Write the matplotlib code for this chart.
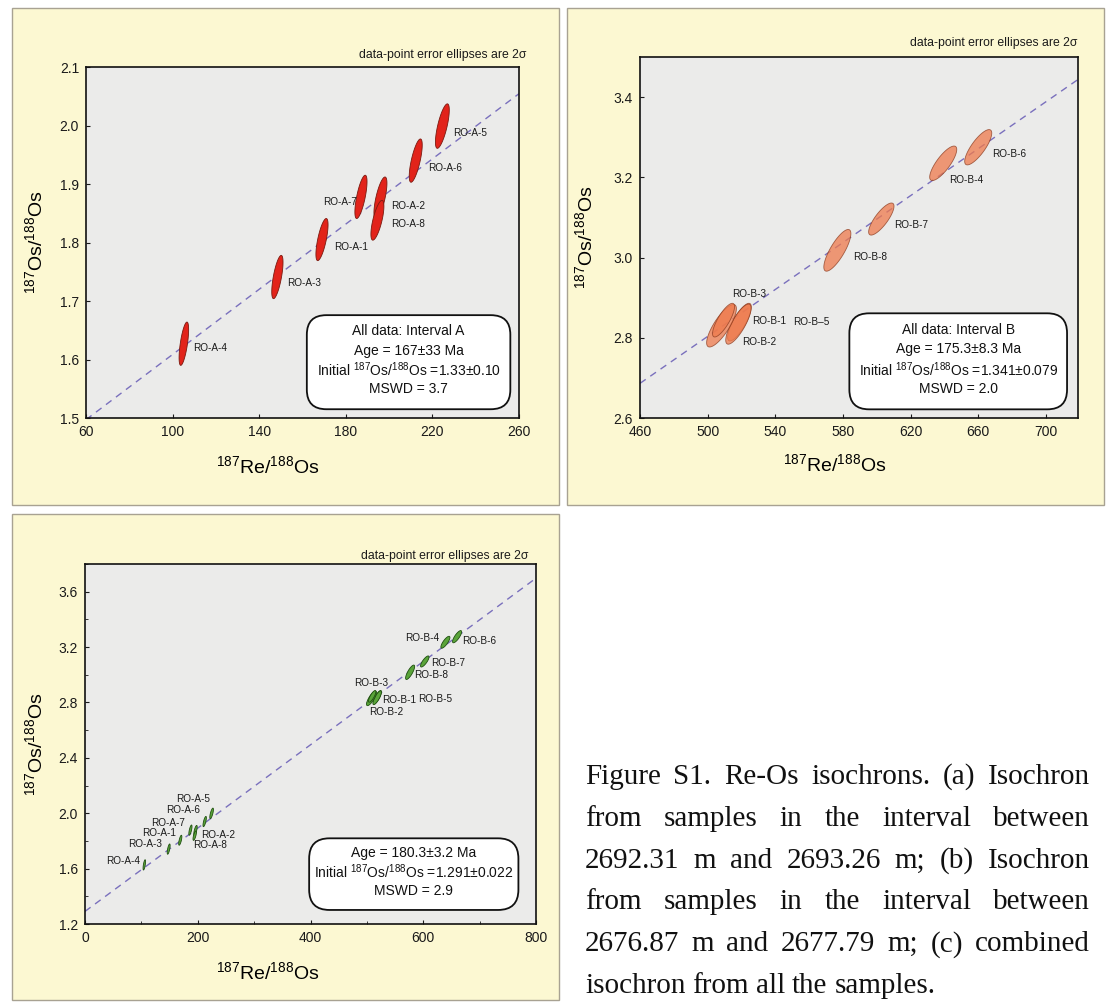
import numpy as np
import matplotlib
matplotlib.use("Agg")
import matplotlib.pyplot as plt
from matplotlib.patches import Polygon, Rectangle, FancyBboxPatch
from matplotlib.ticker import MultipleLocator, FormatStrFormatter

W, H = 1107, 1007

plt.rcParams["font.family"] = ["Liberation Sans", "DejaVu Sans"]
plt.rcParams["mathtext.fontset"] = "custom"
plt.rcParams["mathtext.rm"] = "Liberation Sans"
plt.rcParams["mathtext.it"] = "Liberation Sans:italic"
plt.rcParams["mathtext.bf"] = "Liberation Sans:bold"

LAMBDA_187RE = 1.666e-11  # 1/yr

# interval A: 187Re/188Os, 187Os/188Os, 2-sigma half extents, error correlation
A_NAMES = ["RO-A-1", "RO-A-2", "RO-A-3", "RO-A-4", "RO-A-5", "RO-A-6", "RO-A-7", "RO-A-8"]
A_RE = [169.0, 196.0, 148.4, 105.2, 224.6, 212.3, 187.0, 194.6]
A_OS = [1.805, 1.876, 1.741, 1.627, 1.999, 1.940, 1.878, 1.838]
A_RE_ERR = [2.8, 3.0, 2.6, 2.2, 3.2, 3.0, 2.8, 3.0]
A_OS_ERR = [0.036, 0.036, 0.037, 0.037, 0.038, 0.037, 0.037, 0.034]
A_RHO = [0.70, 0.70, 0.68, 0.65, 0.72, 0.72, 0.70, 0.70]

# interval B
B_NAMES = ["RO-B-1", "RO-B-2", "RO-B-3", "RO-B-4", "RO-B-5", "RO-B-6", "RO-B-7", "RO-B-8"]
B_RE = [518.8, 518.2, 508.2, 639.3, 509.4, 660.0, 602.7, 576.7]
B_OS = [2.839, 2.834, 2.830, 3.235, 2.844, 3.275, 3.096, 3.018]
B_RE_ERR = [7.0, 7.5, 8.8, 8.0, 6.5, 8.0, 7.5, 8.0]
B_OS_ERR = [0.047, 0.050, 0.053, 0.043, 0.042, 0.044, 0.040, 0.052]
B_RHO = [0.80, 0.80, 0.80, 0.80, 0.80, 0.80, 0.80, 0.80]

# isochron results: age (Ma), error, initial ratio, error, MSWD
ISO_A = (167, 33, 1.33, 0.10, 3.7)
ISO_B = (175.3, 8.3, 1.341, 0.079, 2.0)
ISO_ALL = (180.3, 3.2, 1.291, 0.022, 2.9)

A_TICKS_X = [60, 100, 140, 180, 220, 260]
A_TICKS_Y = [1.5, 1.6, 1.7, 1.8, 1.9, 2.0, 2.1]
B_TICKS_X = [460, 500, 540, 580, 620, 660, 700]
B_TICKS_Y = [2.6, 2.8, 3.0, 3.2, 3.4]
C_TICKS_X = [0, 200, 400, 600, 800]
C_TICKS_Y = [1.2, 1.6, 2.0, 2.4, 2.8, 3.2, 3.6]

# label placement: offset in points and alignment
A_LABEL_POS = {
    "RO-A-1": (9, -5, "left"), "RO-A-2": (8, -6, "left"), "RO-A-3": (7, -4, "left"),
    "RO-A-4": (7, -3, "left"), "RO-A-5": (8, -5, "left"), "RO-A-6": (9, -5, "left"),
    "RO-A-7": (-3, -4, "right"), "RO-A-8": (10, -3, "left"),
}
B_LABEL_POS = {
    "RO-B-1": (9, 1, "left"), "RO-B-2": (3, -13, "left"), "RO-B-3": (20, 23, "center"),
    "RO-B-4": (4, -12, "left"), "RO-B-5": (50, -1, "left"), "RO-B-6": (10, -5, "left"),
    "RO-B-7": (9, -4, "left"), "RO-B-8": (11, -5, "left"),
}
B_LABEL_TEXT = {"RO-B-5": "RO-B–5"}
C_LABEL_POS = {
    "RO-A-1": (-3, 5, "right"), "RO-A-2": (4, -3, "left"), "RO-A-3": (-5, 4, "right"),
    "RO-A-4": (-3, 3, "right"), "RO-A-5": (-1, 10, "right"), "RO-A-6": (-3, 8, "right"),
    "RO-A-7": (-4, 5, "right"), "RO-A-8": (-1, -7, "left"),
    "RO-B-1": (3.7, -2, "left"), "RO-B-2": (6.5, -10, "center"), "RO-B-3": (0, 11, "center"),
    "RO-B-4": (-4.7, 3, "right"), "RO-B-5": (33, -2, "left"), "RO-B-6": (3.4, -3.4, "left"),
    "RO-B-7": (4.9, -1, "left"), "RO-B-8": (2.7, -2.2, "left"),
}

PANEL_BG = "#fcf8d2"
PANEL_EDGE = "#a8a292"
PLOT_BG = "#ebebea"
LINE_COLOR = "#7a70bd"

fig = plt.figure(figsize=(W / 100, H / 100), dpi=100)
fig.patch.set_facecolor("white")


def px_axes(x0, y0, x1, y1):
    ax = fig.add_axes([x0 / W, 1 - y1 / H, (x1 - x0) / W, (y1 - y0) / H])
    ax.set_zorder(2)
    return ax


def panel(x0, y0, x1, y1):
    fig.patches.append(Rectangle((x0 / W, 1 - y1 / H), (x1 - x0) / W, (y1 - y0) / H,
                                 transform=fig.transFigure, facecolor=PANEL_BG,
                                 edgecolor=PANEL_EDGE, linewidth=1.0, zorder=-1))


def error_ellipse(ax, cx, cy, sx, sy, rho, face, edge, alpha=1.0):
    t = np.linspace(0, 2 * np.pi, 120)
    xs = cx + sx * np.cos(t)
    ys = cy + sy * (rho * np.cos(t) + np.sqrt(1 - rho ** 2) * np.sin(t))
    ax.add_patch(Polygon(np.column_stack([xs, ys]), closed=True, facecolor=face,
                         edgecolor=edge, linewidth=0.6, alpha=alpha, zorder=3))


def isochron(ax, iso, xlim):
    age, _, r0, _, _ = iso
    slope = np.exp(LAMBDA_187RE * age * 1e6) - 1
    xs = np.array(xlim, dtype=float)
    ax.plot(xs, r0 + slope * xs, color=LINE_COLOR, lw=1.0, dashes=(5, 4), zorder=2)


def style_axes(ax, xlim, ylim, xticks, yticks, yfmt, xminor=None, yminor=None):
    ax.set_facecolor(PLOT_BG)
    ax.set_xlim(xlim)
    ax.set_ylim(ylim)
    ax.set_xticks(xticks)
    ax.set_yticks(yticks)
    ax.yaxis.set_major_formatter(FormatStrFormatter(yfmt))
    if xminor:
        ax.xaxis.set_minor_locator(MultipleLocator(xminor))
    if yminor:
        ax.yaxis.set_minor_locator(MultipleLocator(yminor))
    ax.tick_params(which="both", direction="in", top=False, right=False,
                   labelsize=10, colors="#1a1a1a", pad=5)
    ax.tick_params(which="major", length=3, width=0.8)
    ax.tick_params(which="minor", length=2, width=0.6)
    for s in ax.spines.values():
        s.set_linewidth(1.2)
        s.set_color("#111111")
    ax.set_xlabel(r"$^{187}$Re/$^{188}$Os", fontsize=14, va="top")
    ax.set_ylabel(r"$^{187}$Os/$^{188}$Os", fontsize=14)


def note(ax, x, y):
    ax.text(x, y, "data-point error ellipses are 2σ", transform=ax.transAxes,
            ha="right", va="center", fontsize=8.8, color="#1a1a1a")


def stats_box(ax, lines, x0, y0, x1, y1, step_px=19.3):
    bb = ax.get_window_extent()
    box = FancyBboxPatch((x0, y0), x1 - x0, y1 - y0, transform=ax.transAxes,
                         boxstyle="round,pad=0,rounding_size=0.045",
                         mutation_aspect=bb.width / bb.height,
                         facecolor="white", edgecolor="#111111", linewidth=1.3, zorder=5)
    ax.add_patch(box)
    n = len(lines)
    step = step_px / bb.height
    mid = (y0 + y1) / 2 + 2.0 / bb.height
    for i, s in enumerate(lines):
        yy = mid + (n - 1) / 2 * step - i * step
        ax.text((x0 + x1) / 2, yy, s, transform=ax.transAxes, ha="center", va="center",
                fontsize=10, color="#111111", zorder=6)


def sample_labels(ax, names, xs, ys, pos, text=None, size=7.2):
    text = text or {}
    for n, x, y in zip(names, xs, ys):
        dx, dy, ha = pos[n]
        ax.annotate(text.get(n, n), (x, y), xytext=(dx, dy), textcoords="offset points",
                    ha=ha, va="center", fontsize=size, color="#1a1a1a", zorder=4)


# panel frames
panel(12, 8, 559, 505)
panel(567, 8, 1104, 505)
panel(12, 514, 559, 1000)

# (a) interval A
axA = px_axes(86, 67, 519, 418)
style_axes(axA, (60, 260), (1.5, 2.1), A_TICKS_X, A_TICKS_Y, "%.1f")
isochron(axA, ISO_A, (60, 260))
for x, y, sx, sy, r in zip(A_RE, A_OS, A_RE_ERR, A_OS_ERR, A_RHO):
    error_ellipse(axA, x, y, sx, sy, r, "#e2231a", "#7a1a10")
sample_labels(axA, A_NAMES, A_RE, A_OS, A_LABEL_POS)
note(axA, 1.018, 1.034)
axA.xaxis.set_label_coords(0.42, -0.105)
axA.yaxis.set_label_coords(-0.093, 0.5)
stats_box(axA, ["All data: Interval A",
                "Age = %g±%g Ma" % ISO_A[:2],
                r"Initial $^{187}$Os/$^{188}$Os =%.2f±%.2f" % ISO_A[2:4],
                "MSWD = %.1f" % ISO_A[4]],
          0.51, 0.025, 0.98, 0.293)

# (b) interval B
axB = px_axes(640, 57, 1078, 418)
style_axes(axB, (460, 719), (2.6, 3.5), B_TICKS_X, B_TICKS_Y, "%.1f")
isochron(axB, ISO_B, (460, 719))
for x, y, sx, sy, r in zip(B_RE, B_OS, B_RE_ERR, B_OS_ERR, B_RHO):
    error_ellipse(axB, x, y, sx, sy, r, "#ef7a4c", "#8a3a1e", alpha=0.75)
sample_labels(axB, B_NAMES, B_RE, B_OS, B_LABEL_POS, B_LABEL_TEXT)
note(axB, 0.998, 1.039)
axB.xaxis.set_label_coords(0.445, -0.097)
axB.yaxis.set_label_coords(-0.10, 0.5)
stats_box(axB, ["All data: Interval B",
                "Age = %.1f±%.1f Ma" % ISO_B[:2],
                r"Initial $^{187}$Os/$^{188}$Os =%.3f±%.3f" % ISO_B[2:4],
                "MSWD = %.1f" % ISO_B[4]],
          0.478, 0.024, 0.975, 0.29, step_px=19.8)

# (c) all samples
axC = px_axes(85, 564, 536, 924)
style_axes(axC, (0, 800), (1.2, 3.8), C_TICKS_X, C_TICKS_Y, "%.1f", xminor=100, yminor=0.2)
isochron(axC, ISO_ALL, (0, 800))
for x, y, sx, sy, r in zip(A_RE + B_RE, A_OS + B_OS, A_RE_ERR + B_RE_ERR,
                           A_OS_ERR + B_OS_ERR, A_RHO + B_RHO):
    error_ellipse(axC, x, y, sx, sy, r, "#5aa43a", "#1f4f10")
sample_labels(axC, A_NAMES + B_NAMES, A_RE + B_RE, A_OS + B_OS, C_LABEL_POS)
note(axC, 0.984, 1.021)
axC.xaxis.set_label_coords(0.406, -0.103)
axC.yaxis.set_label_coords(-0.087, 0.5)
stats_box(axC, ["Age = %.1f±%.1f Ma" % ISO_ALL[:2],
                r"Initial $^{187}$Os/$^{188}$Os =%.3f±%.3f" % ISO_ALL[2:4],
                "MSWD = %.1f" % ISO_ALL[4]],
          0.497, 0.039, 0.961, 0.238, step_px=19.0)

# caption, justified between two margins
CAPTION = [
    "Figure S1. Re-Os isochrons. (a) Isochron",
    "from samples in the interval between",
    "2692.31 m and 2693.26 m; (b) Isochron",
    "from samples in the interval between",
    "2676.87 m and 2677.79 m; (c) combined",
    "isochron from all the samples.",
]
cap_left, cap_right, cap_base, cap_step = 585, 1090, 784, 41.8
renderer = fig.canvas.get_renderer()
for i, line in enumerate(CAPTION):
    words = line.split()
    y = 1 - (cap_base + i * cap_step) / H
    objs = [fig.text(0, y, w, fontsize=21, family="Liberation Serif", va="baseline",
                     color="#111111") for w in words]
    widths = [t.get_window_extent(renderer).width for t in objs]
    if i < len(CAPTION) - 1:
        gap = (cap_right - cap_left - sum(widths)) / (len(words) - 1)
    else:
        gap = 7.0
    x = cap_left
    for t, w in zip(objs, widths):
        t.set_x(x / W)
        x += w + gap

fig.savefig("out.png", dpi=100)
